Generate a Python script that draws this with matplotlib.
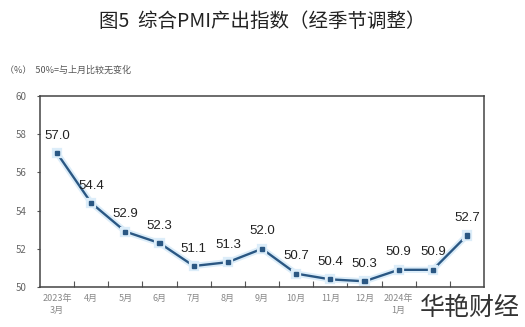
import numpy as np
import matplotlib.pyplot as plt
import matplotlib.patheffects as pe

plt.rcParams['font.family'] = ['Noto Sans CJK SC', 'DejaVu Sans']

months = ['2023年\n3月', '4月', '5月', '6月', '7月', '8月', '9月', '10月', '11月', '12月',
          '2024年\n1月', '2月', '3月']
pmi = [57.0, 54.4, 52.9, 52.3, 51.1, 51.3, 52.0, 50.7, 50.4, 50.3, 50.9, 50.9, 52.7]

fig = plt.figure(figsize=(5.25, 3.27), dpi=100)
ax = fig.add_axes([0.0762, 0.1223, 0.8458, 0.5841])

x = np.arange(len(pmi))
ax.plot(x, pmi, color='#2a5783', lw=1.7, marker='s', ms=3, mfc='#2a5783', mec='#2a5783',
        path_effects=[pe.Stroke(linewidth=4.5, foreground='#dcedf9'), pe.Normal()])

# value labels above each point
for xi, v in zip(x, pmi):
    ax.annotate(f'{v:.1f}', (xi, v), xytext=(0, 12.5), textcoords='offset points',
                ha='center', va='center', fontsize=9.5, color='#222222',
                family='Liberation Sans')

ax.set_xlim(-0.5, len(pmi) - 0.5)
ax.set_ylim(50, 60)
ax.set_yticks(np.arange(50, 61, 2))
ax.tick_params(axis='y', direction='out', length=2, labelsize=7, labelcolor='#666666',
               color='#555555', pad=8)

# ticks between months, labels centred under points
ax.set_xticks(np.arange(0.5, len(pmi) - 1, 1))
ax.set_xticklabels([])
ax.tick_params(axis='x', which='major', direction='in', length=4, color='#555555')
ax.set_xticks(x, minor=True)
ax.set_xticklabels(months, minor=True, fontsize=6.5, color='#888888', linespacing=1.5)
ax.tick_params(axis='x', which='minor', length=0, pad=5)

for s in ax.spines.values():
    s.set_color('#444444')
    s.set_linewidth(1.1)

fig.text(0.5, 0.935, '图5  综合PMI产出指数（经季节调整）', ha='center', va='center',
         fontsize=14, color='#222222')
fig.text(0.01, 0.785, '（%）  50%=与上月比较无变化', ha='left', va='center',
         fontsize=6.5, color='#555555')
# watermark sits on top of the last month labels
fig.text(0.99, 0.058, '华艳财经', ha='right', va='center', fontsize=18, color='#333333',
         fontweight='light', zorder=10,
         bbox=dict(facecolor='white', edgecolor='none', pad=1))

plt.savefig('out.png', dpi=100)
